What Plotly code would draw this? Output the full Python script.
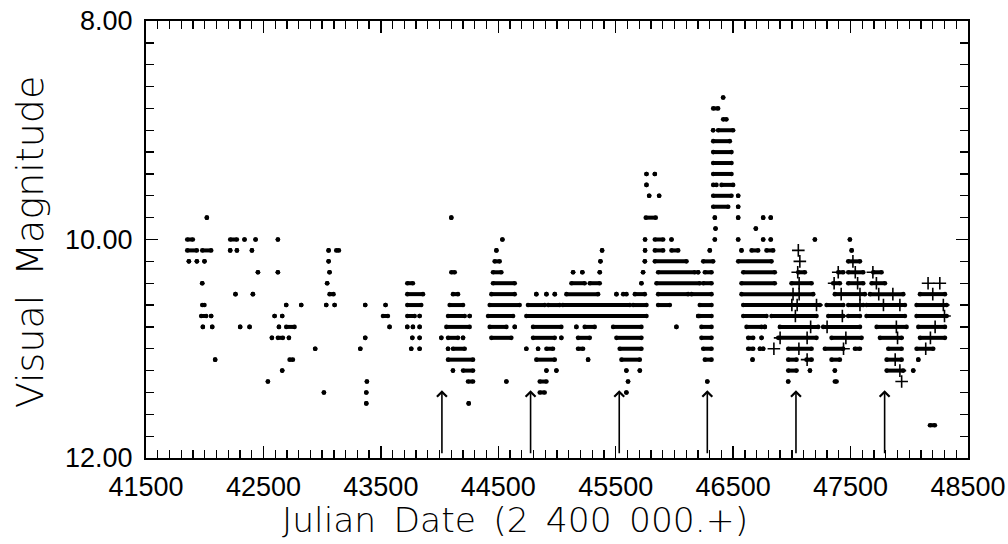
import plotly.graph_objects as go

S_A = [(9.8, 42018), (10.0, 41851, 41899), (10.1, 41851, 41933), (10.1, 41979, 42055),
       (10.2, 41865), (10.2, 41933), (10.2, 41998), (10.4, 41979), (10.6, 41979, 41998),
       (10.7, 41970, 42013), (10.7, 42055), (10.8, 41984), (10.8, 42064), (11.1, 42089)]
S_B = [(10.0, 42217, 42274), (10.0, 42339), (10.0, 42433), (10.1, 42217), (10.1, 42274),
       (10.1, 42402), (10.3, 42453), (10.5, 42262), (10.5, 42410), (10.8, 42302), (10.8, 42382)]
S_C = [(10.0, 42623), (10.3, 42623), (10.6, 42694), (10.6, 42822), (10.7, 42595), (10.7, 42660),
       (10.8, 42632), (10.8, 42694, 42765), (10.9, 42572), (10.9, 42623, 42666), (10.9, 42717),
       (11.1, 42723, 42751), (11.2, 42660), (11.3, 42538)]
S_D = [(11.0, 42941), (11.4, 43015), (10.6, 43035), (10.6, 43106), (10.4, 43043), (10.1, 43055),
       (10.1, 43120, 43143), (10.2, 43055), (10.3, 43063), (10.5, 43063, 43097)]
S_E = [(11.0, 43325), (10.6, 43367), (10.9, 43367), (11.3, 43381), (11.4, 43376), (11.5, 43376),
       (10.6, 43540), (10.7, 43518, 43560), (10.8, 43574)]
S_F = [(10.4, 43725, 43773), (10.5, 43725, 43859), (10.6, 43725, 43844), (10.7, 43725, 43788),
       (10.7, 43830), (10.8, 43725), (10.8, 43773), (10.8, 43830), (10.9, 43768), (10.9, 43830),
       (11.0, 43759), (11.0, 43830)]
S_G = [(9.8, 44100), (10.3, 44100, 44129), (10.5, 44114, 44157), (10.6, 44086, 44200),
       (10.7, 44072, 44214), (10.7, 44256), (10.8, 44058, 44256), (10.9, 44015),
       (10.9, 44072, 44157), (10.9, 44200), (11.0, 44072), (11.0, 44114, 44214),
       (11.1, 44072, 44285), (11.2, 44114), (11.2, 44200, 44285), (11.3, 44242, 44285), (11.5, 44248)]
S_H = [(10.0, 44535), (10.1, 44484), (10.2, 44469, 44512), (10.3, 44455, 44526),
       (10.4, 44455, 44640), (10.5, 44441, 44640), (10.6, 44427, 44682), (10.7, 44413, 44626),
       (10.8, 44427, 44569), (10.8, 44640), (10.9, 44441, 44611), (11.3, 44569)]
S_I = [(10.5, 44824), (10.5, 44910), (10.5, 44981), (10.6, 44753, 44896), (10.6, 44925, 45023),
       (10.7, 44739, 45762), (10.8, 44796, 45037), (10.9, 44796, 44981), (10.9, 45037),
       (11.0, 44739), (11.0, 44839), (11.0, 44910, 44966), (11.1, 44824, 44981), (11.2, 44910),
       (11.2, 44995), (11.3, 44853, 44910), (11.4, 44853, 44895)]
S_J = [(10.1, 45384), (10.2, 45370), (10.3, 45137), (10.3, 45216), (10.3, 45364),
       (10.4, 45123, 45236), (10.4, 45279, 45364), (10.5, 45080, 45350), (10.6, 45050, 45620),
       (10.8, 45165), (10.8, 45236, 45321), (10.9, 45179, 45279), (11.0, 45179, 45222), (11.1, 45265)]
S_K = [(10.0, 45750), (10.1, 45750), (10.2, 45748), (10.3, 45733), (10.4, 45719), (10.5, 45506),
       (10.5, 45563, 45592), (10.5, 45663, 45748), (10.6, 45648, 45762), (10.8, 45478, 45719),
       (10.9, 45506, 45719), (11.0, 45534, 45719), (11.1, 45549, 45705), (11.2, 45591),
       (11.2, 45705), (11.3, 45605), (11.4, 45591)]
S_L = [(9.4, 45762), (9.4, 45833), (9.5, 45762), (9.6, 45785), (9.6, 45870), (9.8, 45756, 45841),
       (10.0, 45833, 45904), (10.0, 45975), (10.1, 45833, 45904), (10.1, 45975, 46032),
       (10.2, 45833, 46103), (10.3, 45861, 46174), (10.3, 46202), (10.4, 45847, 46216),
       (10.5, 45861, 46117), (10.5, 46145, 46316), (10.6, 45861, 45961), (10.7, 46202), (10.8, 46017)]
S_M = [(10.1, 46301), (10.2, 46245, 46330), (10.3, 46259, 46316), (10.4, 46245, 46316),
       (10.6, 46216, 46316), (10.7, 46216, 46316), (10.8, 46230, 46316), (10.9, 46230, 46316),
       (11.0, 46245, 46316), (11.1, 46259, 46316), (11.3, 46280)]
S_N = [(8.7, 46415), (8.8, 46330, 46372), (8.9, 46415, 46443), (9.0, 46330), (9.0, 46372, 46500),
       (9.1, 46330, 46472), (9.2, 46330, 46486), (9.3, 46330, 46486), (9.4, 46330, 46486),
       (9.5, 46330, 46358), (9.5, 46401, 46500), (9.6, 46330, 46486), (9.6, 46543),
       (9.7, 46330, 46458), (9.7, 46543), (9.8, 46344), (9.8, 46543), (9.9, 46350),
       (10.0, 46344), (10.0, 46543)]
S_O = [(9.8, 46756), (9.8, 46820), (9.9, 46693), (10.0, 46756), (10.0, 46820), (10.0, 47196),
       (10.1, 46571), (10.1, 46657, 46713), (10.1, 46784, 46841), (10.2, 46543, 46827),
       (10.3, 46586, 46855), (10.3, 47054, 47111), (10.4, 46571, 46855), (10.4, 46997, 47168),
       (10.5, 46571, 47182), (10.6, 46586, 47239), (10.7, 46586, 46784), (10.7, 46827, 47210),
       (10.8, 46614, 46742), (10.8, 46770), (10.8, 46898, 47224), (10.9, 46628, 46671),
       (10.9, 46742), (10.9, 46884, 47210), (11.0, 46628, 46671), (11.0, 46728), (11.0, 46756),
       (11.0, 46969, 47168), (11.1, 46665), (11.1, 46969, 47040), (11.1, 47125, 47168),
       (11.2, 46969, 47040), (11.2, 47154), (11.3, 46969)]
S_P = [(10.0, 47494), (10.1, 47509), (10.2, 47480, 47580), (10.3, 47395, 47438),
       (10.3, 47480, 47608), (10.4, 47352, 47409), (10.4, 47480, 47608), (10.5, 47366, 47622),
       (10.6, 47296, 47438), (10.6, 47480, 47608), (10.7, 47310, 47438), (10.7, 47480, 47580),
       (10.8, 47267, 47580), (10.9, 47338, 47594), (11.0, 47281, 47437), (11.0, 47537, 47580),
       (11.1, 47338, 47409), (11.2, 47366), (11.3, 47366, 47381)]
S_Q = [(10.3, 47693, 47764), (10.4, 47679, 47793), (10.5, 47665, 47949), (10.6, 47636, 47963),
       (10.7, 47636, 47963), (10.8, 47722, 47977), (10.9, 47750, 47935), (11.0, 47821, 47935),
       (11.1, 47807, 47935), (11.2, 47807, 47949)]
S_R = [(10.5, 48091, 48304), (10.6, 48062, 48318), (10.7, 48062, 48318), (10.8, 48077, 48304),
       (10.9, 48091, 48304), (11.0, 48062, 48204), (11.1, 48077), (11.2, 48034), (11.7, 48176, 48218)]

# second observer (plus symbols)
PLUS_JD = [47055, 47068, 47050, 47062, 47010, 47062, 47000, 47045, 47030, 47210, 46900, 46847,
           47160, 47130, 47130, 47060,
           47395, 47360, 47420, 47520, 47540, 47560, 47580, 47430, 47460, 47440, 47580, 47300,
           47690, 47720, 47740, 47780, 47860, 47920, 47890, 47900, 47880, 47920, 47935,
           48160, 48260, 48200, 48290, 48300, 48220, 48140, 48180]
PLUS_MAG = [10.1, 10.2, 10.3, 10.4, 10.5, 10.5, 10.6, 10.6, 10.7, 10.6, 10.9, 11.0,
            10.8, 10.9, 11.1, 11.0,
            10.3, 10.4, 10.5, 10.2, 10.3, 10.4, 10.5, 10.7, 10.9, 11.0, 10.6, 10.8,
            10.3, 10.4, 10.5, 10.6, 10.5, 10.6, 10.8, 10.9, 11.1, 11.2, 11.3,
            10.4, 10.4, 10.5, 10.6, 10.7, 10.8, 11.0, 10.9]

# minima marked with arrows
ARROW_JD = [44020, 44775, 45530, 46280, 47035, 47790]
ARROW_TIP = 11.38
ARROW_TAIL = 11.97

X_TICK0, X_END = 41500, 48500
Y_TOP, Y_BOTTOM = 8.0, 12.0

RUNS = S_A + S_B + S_C + S_D + S_E + S_F + S_G + S_H + S_I + S_J + S_K + S_L + S_M + S_N + S_O + S_P + S_Q + S_R

xs, ys = [], []
for r in RUNS:
    m, a = r[0], r[1]
    b = r[2] if len(r) > 2 else a
    xs += [a, b, None]
    ys += [m, m, None]

fig = go.Figure()
fig.add_trace(go.Scatter(x=xs, y=ys, mode='lines+markers',
                         line=dict(color='black', width=4),
                         marker=dict(size=4.6, color='black'),
                         hoverinfo='skip', showlegend=False))
fig.add_trace(go.Scatter(x=PLUS_JD, y=PLUS_MAG, mode='markers',
                         marker=dict(symbol='cross-thin', size=9, color='black',
                                     line=dict(width=1.6, color='black')),
                         hoverinfo='skip', showlegend=False))

for jd in ARROW_JD:
    fig.add_annotation(x=jd, y=ARROW_TIP, ax=jd, ay=ARROW_TAIL, xref='x', yref='y',
                       axref='x', ayref='y', text='', showarrow=True, arrowhead=4,
                       arrowsize=1.2, arrowwidth=1.6, arrowcolor='black')

TICKFONT = dict(family='Liberation Sans', size=27, color='black')

fig.update_layout(
    width=1008, height=544,
    margin=dict(l=146, r=40, t=21, b=86, pad=0),
    paper_bgcolor='white', plot_bgcolor='white', showlegend=False,
    xaxis=dict(range=[X_TICK0, X_END], tick0=X_TICK0, dtick=1000, tickformat='d',
               ticks='inside', ticklen=12, tickwidth=1.5, tickcolor='black',
               showline=True, linewidth=2, linecolor='black', mirror='allticks',
               showgrid=False, zeroline=False, tickfont=TICKFONT, ticklabelstandoff=4,
               automargin=False,
               minor=dict(tick0=X_TICK0, dtick=100, ticks='inside', ticklen=8, tickwidth=1.3,
                          tickcolor='black', showgrid=False)),
    yaxis=dict(range=[Y_BOTTOM, Y_TOP], tick0=8, dtick=2, tickformat='.2f',
               ticks='inside', ticklen=12, tickwidth=1.5, tickcolor='black',
               showline=True, linewidth=2, linecolor='black', mirror='allticks',
               showgrid=False, zeroline=False, tickfont=TICKFONT, ticklabelstandoff=6,
               automargin=False,
               minor=dict(tick0=8, dtick=0.2, ticks='inside', ticklen=8, tickwidth=1.3,
                          tickcolor='black', showgrid=False)),
)

fig.add_annotation(text='Julian\u2002Date\u2002(2\u2002400\u2002000.+)', xref='paper', yref='paper',
                   x=0.4495, y=-0.142, xanchor='center', yanchor='middle', showarrow=False,
                   font=dict(family='DejaVu Sans', size=34.5, color='black', weight=200))
fig.add_annotation(text='Visual\u2002Magnitude', xref='paper', yref='paper', textangle=-90,
                   x=-0.1411, y=0.494, xanchor='center', yanchor='middle', showarrow=False,
                   font=dict(family='DejaVu Sans', size=38, color='black', weight=200))

fig.write_html('out.html', config={'displayModeBar': False, 'staticPlot': True},
               post_script="document.body.style.margin='0';document.body.style.padding='0';"
                           "document.body.style.overflow='hidden';")
